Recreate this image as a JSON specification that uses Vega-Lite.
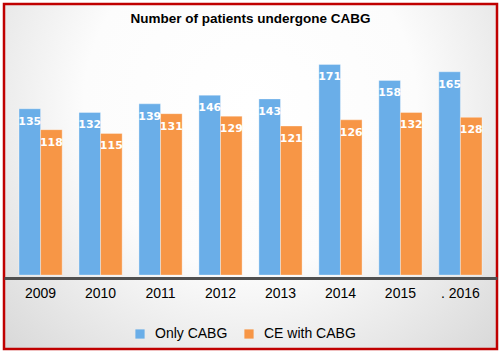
{
  "$schema": "https://vega.github.io/schema/vega-lite/v6.json",
  "width": 493,
  "height": 345,
  "autosize": {"type": "none"},
  "padding": {"left": 4, "top": 4, "right": 5, "bottom": 8},
  "background": "white",
  "config": {"view": {"stroke": null}, "font": "Liberation Sans"},
  "title": {"text": "Number of patients undergone CABG", "fontSize": 13.5, "fontWeight": "bold", "font": "Liberation Sans", "color": "black", "offset": -23, "anchor": "middle"},
  "data": {"values": [
    {"year": "2009", "series": "Only CABG", "value": 135},
    {"year": "2009", "series": "CE with CABG", "value": 118},
    {"year": "2010", "series": "Only CABG", "value": 132},
    {"year": "2010", "series": "CE with CABG", "value": 115},
    {"year": "2011", "series": "Only CABG", "value": 139},
    {"year": "2011", "series": "CE with CABG", "value": 131},
    {"year": "2012", "series": "Only CABG", "value": 146},
    {"year": "2012", "series": "CE with CABG", "value": 129},
    {"year": "2013", "series": "Only CABG", "value": 143},
    {"year": "2013", "series": "CE with CABG", "value": 121},
    {"year": "2014", "series": "Only CABG", "value": 171},
    {"year": "2014", "series": "CE with CABG", "value": 126},
    {"year": "2015", "series": "Only CABG", "value": 158},
    {"year": "2015", "series": "CE with CABG", "value": 132},
    {"year": "2016", "series": "Only CABG", "value": 165},
    {"year": "2016", "series": "CE with CABG", "value": 128}
  ]},
  "layer": [
    {
      "data": {"values": [{}]},
      "mark": {"type": "rect", "stroke": "#c00000", "strokeWidth": 2.5,
        "fill": {"gradient": "radial", "x1": 0.5, "y1": 0.35, "x2": 0.5, "y2": 0.35, "r1": 0, "r2": 0.75,
          "stops": [{"offset": 0, "color": "#ffffff"}, {"offset": 0.45, "color": "#fcfcfc"}, {"offset": 1, "color": "#d4d4d4"}]}},
      "encoding": {}
    },
    {
      "mark": {"type": "bar", "stroke": "white", "strokeOpacity": 0.35, "strokeWidth": 1},
      "encoding": {
        "x": {"field": "year", "type": "nominal", "scale": {"paddingInner": 0.28, "paddingOuter": 0.25},
          "axis": {"title": null, "orient": "bottom", "offset": -71, "domainColor": "#505050", "domainWidth": 3, "ticks": false, "labelFontSize": 14, "labelColor": "black", "labelPadding": 8, "labelAngle": 0, "labelFont": "Liberation Sans", "zindex": 1,
            "labelExpr": "datum.value == '2016' ? '. 2016' : datum.label"}},
        "xOffset": {"field": "series", "type": "nominal", "sort": ["Only CABG", "CE with CABG"]},
        "y": {"field": "value", "type": "quantitative", "scale": {"domain": [-55, 212]}, "axis": null},
        "color": {"field": "series", "type": "nominal", "sort": ["Only CABG", "CE with CABG"],
          "scale": {"domain": ["Only CABG", "CE with CABG"], "range": ["#6aaee8", "#f79646"]},
          "legend": {"orient": "none", "legendX": 129, "legendY": 323, "direction": "horizontal", "title": null, "symbolType": "square", "symbolSize": 85, "labelFontSize": 14, "labelFont": "Liberation Sans", "labelColor": "black", "labelOffset": 8, "columnPadding": 14, "symbolStrokeWidth": 0, "symbolOpacity": 1}}
      }
    },
    {
      "mark": {"type": "text", "color": "white", "fontWeight": "bold", "font": "DejaVu Sans", "fontSize": 11, "baseline": "top", "dy": 7},
      "encoding": {
        "x": {"field": "year", "type": "nominal"},
        "xOffset": {"field": "series", "type": "nominal", "sort": ["Only CABG", "CE with CABG"]},
        "y": {"field": "value", "type": "quantitative"},
        "text": {"field": "value", "type": "quantitative"}
      }
    }
  ]
}
